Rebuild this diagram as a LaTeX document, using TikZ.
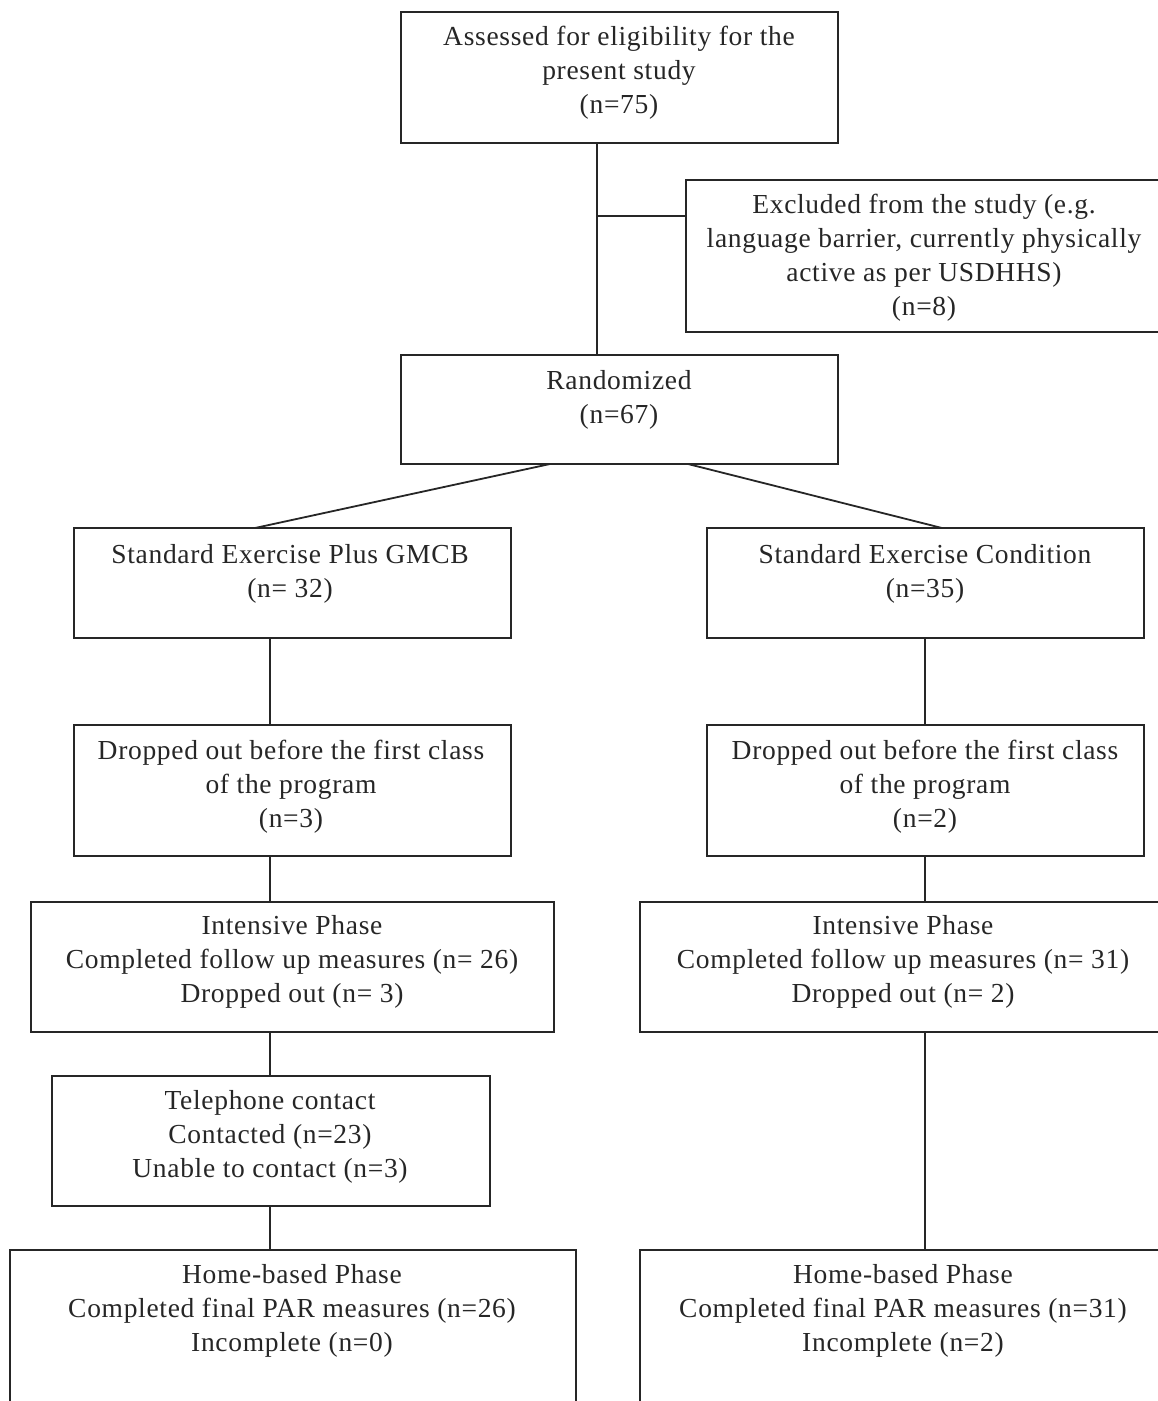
\documentclass[tikz,border=0pt]{standalone}
\usepackage{fontspec}
\setmainfont{Liberation Serif}[LetterSpace=2.5]
\begin{document}
\begin{tikzpicture}[x=1pt,y=-1pt,
  box/.style={draw=black!85,line width=1.8pt,inner sep=0pt,outer sep=0pt,rectangle},
  txt/.style={align=center,inner sep=0pt,text=black!85,font=\fontsize{27.5}{34}\selectfont},
  conn/.style={draw=black!85,line width=1.8pt}]
\useasboundingbox (0,0) rectangle (1158,1401);
\clip (0,0) rectangle (1158,1401);
% boxes
\node[box,minimum width=437,minimum height=131] (a) at (619.5,77.5) {};
\node[box,minimum width=484,minimum height=152] (excl) at (928,256) {};
\node[box,minimum width=437,minimum height=109] (rand) at (619.5,409.5) {};
\node[box,minimum width=437,minimum height=110] (L1) at (292.5,583) {};
\node[box,minimum width=437,minimum height=110] (R1) at (925.5,583) {};
\node[box,minimum width=437,minimum height=131] (L2) at (292.5,790.5) {};
\node[box,minimum width=437,minimum height=131] (R2) at (925.5,790.5) {};
\node[box,minimum width=523,minimum height=130] (L3) at (292.5,967) {};
\node[box,minimum width=526,minimum height=130] (R3) at (903,967) {};
\node[box,minimum width=438,minimum height=130] (L4) at (271,1141) {};
\node[box,minimum width=566,minimum height=170] (L5) at (293,1335) {};
\node[box,minimum width=526,minimum height=170] (R5) at (903,1335) {};
% texts
\node[txt] (ta) at (619,73) {Assessed for eligibility for the\\present study\\(n=75)};
\node[txt] (texcl) at (924,258) {Excluded from the study (e.g.\\language barrier, currently physically\\active as per USDHHS)\\(n=8)};
\node[txt] (trand) at (619,400) {Randomized\\(n=67)};
\node[txt] (tL1) at (290,574) {Standard Exercise Plus GMCB\\(n= 32)};
\node[txt] (tR1) at (925,574) {Standard Exercise Condition\\(n=35)};
\node[txt] (tL2) at (291,787) {Dropped out before the first class\\of the program\\(n=3)};
\node[txt] (tR2) at (925,787) {Dropped out before the first class\\of the program\\(n=2)};
\node[txt] (tL3) at (292,962) {Intensive Phase\\Completed follow up measures (n= 26)\\Dropped out (n= 3)};
\node[txt] (tR3) at (903,962) {Intensive Phase\\Completed follow up measures (n= 31)\\Dropped out (n= 2)};
\node[txt] (tL4) at (270,1137) {Telephone contact\\Contacted (n=23)\\Unable to contact (n=3)};
\node[txt] (tL5) at (292,1311) {Home-based Phase\\Completed final PAR measures (n=26)\\Incomplete (n=0)};
\node[txt] (tR5) at (903,1311) {Home-based Phase\\Completed final PAR measures (n=31)\\Incomplete (n=2)};
% connectors
\coordinate (v1) at (597,0);
\coordinate (cl) at (270,0);
\coordinate (cr) at (925,0);
\coordinate (br) at (597,216);
\draw[conn] (a.south -| v1) -- (rand.north -| v1);
\draw[conn] (br) -- (br -| excl.west);
\draw[conn] ([xshift=-69.5]rand.south) -- ([xshift=-37.5]L1.north);
\draw[conn] ([xshift=68.5]rand.south) -- ([xshift=16.5]R1.north);
\draw[conn] (L1.south -| cl) -- (L2.north -| cl);
\draw[conn] (L2.south -| cl) -- (L3.north -| cl);
\draw[conn] (L3.south -| cl) -- (L4.north -| cl);
\draw[conn] (L4.south -| cl) -- (L5.north -| cl);
\draw[conn] (R1.south -| cr) -- (R2.north -| cr);
\draw[conn] (R2.south -| cr) -- (R3.north -| cr);
\draw[conn] (R3.south -| cr) -- (R5.north -| cr);
\end{tikzpicture}
\end{document}
